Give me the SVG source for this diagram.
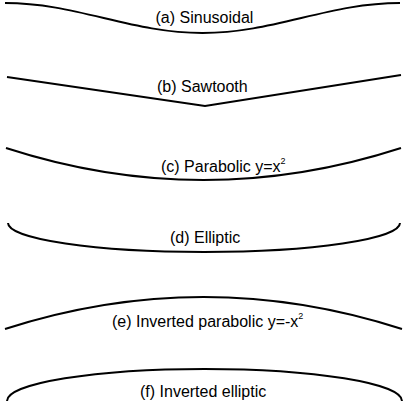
<svg xmlns="http://www.w3.org/2000/svg" width="403" height="411" viewBox="0 0 403 411">
<style>
.c{fill:none;stroke:#000;stroke-width:2;stroke-linecap:butt;stroke-linejoin:miter}
.t{font-family:"Liberation Sans",Arial,sans-serif;font-size:16px;fill:#000}
.s{font-size:9px}
</style>
<rect width="403" height="411" fill="#fff"/>
<g id="a-sinusoidal">
<path class="c" d="M5,3 C40.74,3 71.54,10.32 103.75,18 C135.96,25.68 166.76,33 202.5,33 C238.24,33 269.04,25.68 301.25,18 C333.46,10.32 364.26,3 400,3"/>
<text class="t" x="155.5" y="22.5">(a) Sinusoidal</text>
</g>
<g id="b-sawtooth">
<path class="c" d="M7,77 L205,106 L401,75"/>
<text class="t" x="157" y="92">(b) Sawtooth</text>
</g>
<g id="c-parabolic">
<path class="c" d="M6,148 Q203.5,212 401,148"/>
<text class="t" x="161" y="171.5">(c) Parabolic y=x<tspan class="s" dy="-8">2</tspan></text>
</g>
<g id="d-elliptic">
<path class="c" d="M8,223 A196,29 0 0 0 400,223"/>
<text class="t" x="170" y="242.5">(d) Elliptic</text>
</g>
<g id="e-inverted-parabolic">
<path class="c" d="M5,329 Q203.5,265 402,329"/>
<text class="t" x="112" y="327">(e) Inverted parabolic y=-x<tspan class="s" dy="-8">2</tspan></text>
</g>
<g id="f-inverted-elliptic">
<path class="c" d="M7,401 A197,32 0 0 1 402,401"/>
<text class="t" x="140" y="397">(f) Inverted elliptic</text>
</g>
</svg>
